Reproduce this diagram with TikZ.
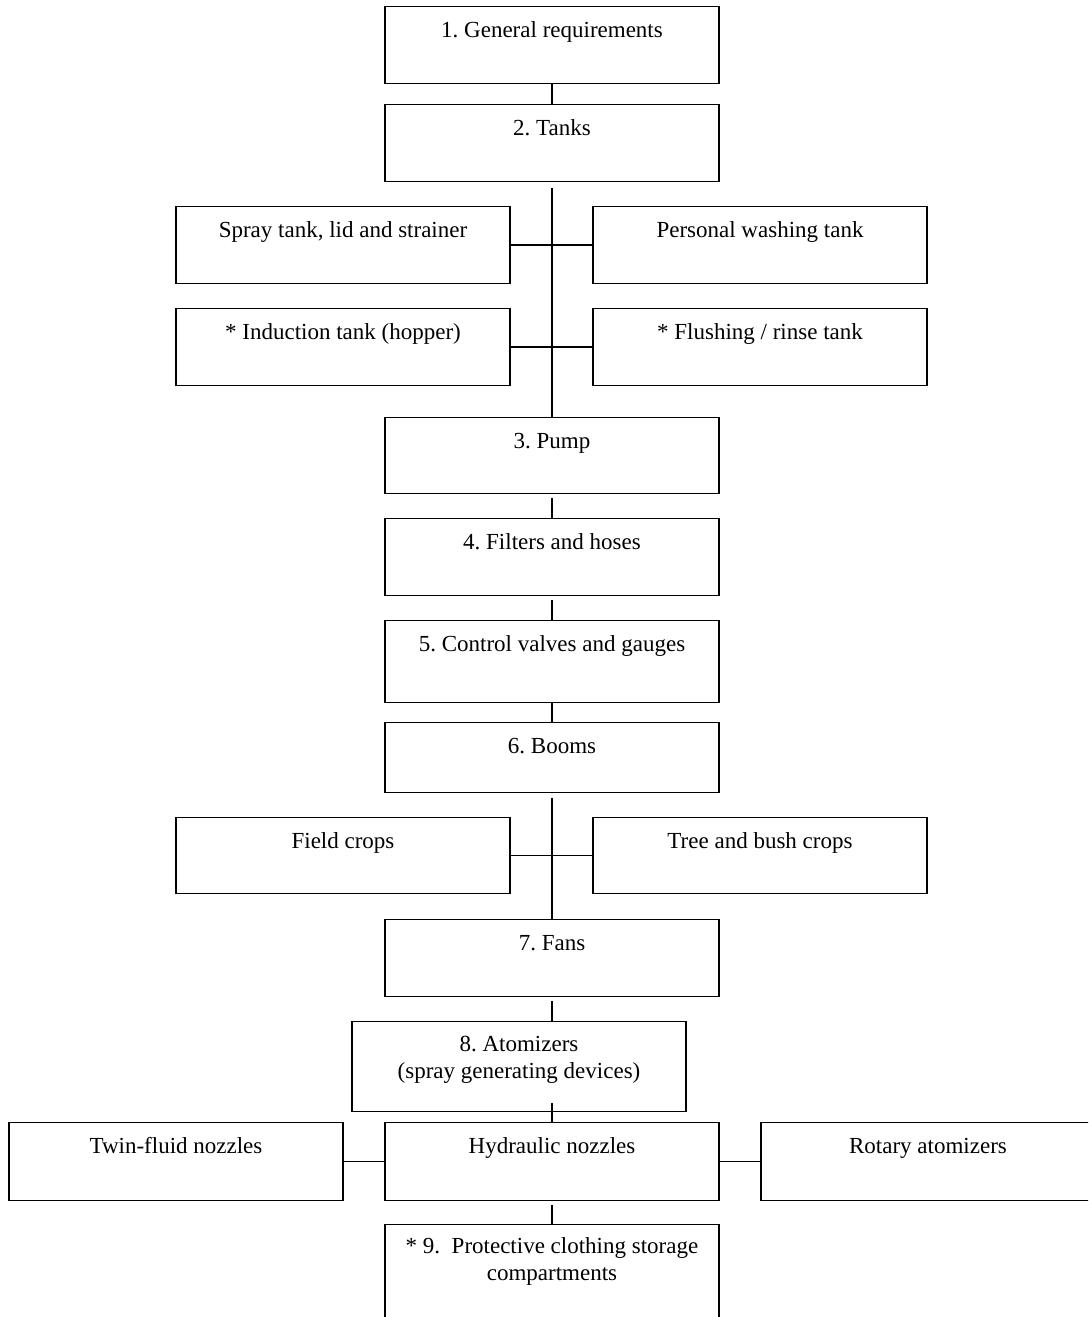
\documentclass[tikz,border=0pt]{standalone}
\usepackage{fontspec}
\setmainfont{Liberation Serif}
\usepackage{tikz}
\frenchspacing

\begin{document}
\begin{tikzpicture}[x=1pt,y=1pt,
  box/.style={draw=drawColor,line width=1.5pt,anchor=north,minimum width=334pt,inner sep=0pt,
    align=center,text height=31pt,text depth=46pt,font=\fontsize{23}{27}\selectfont},
  link/.style={draw=drawColor,line width=1.5pt},
  gap/.style={link,shorten <=4pt}]
\definecolor{drawColor}{RGB}{0,0,0}
\path[use as bounding box] (0,0) rectangle (1088,1317);
\begin{scope}
\path[clip] (0,0) rectangle (1088,1317);

% main chain
\node[box] (gen) at (552,1311) {1. General requirements};
\node[box] (tanks) at (552,1213) {2. Tanks};
\node[box,text depth=45pt] (pump) at (552,900) {3. Pump};
\node[box] (filters) at (552,799) {4. Filters and hoses};
\node[box,text depth=51pt] (control) at (552,697) {5. Control valves and gauges};
\node[box,text depth=39pt] (booms) at (552,595) {6. Booms};
\node[box] (fans) at (552,398) {7. Fans};
\node[box,text height=57pt,text depth=33pt] (atom) at (519,296) {8. Atomizers\\(spray generating devices)};
\node[box,text depth=47pt] (hydr) at (552,195) {Hydraulic nozzles};
\node[box,text height=56pt,text depth=60pt] (prot) at (552,93) {* 9.~ Protective clothing storage\\compartments};

% tanks
\node[box] (spray) at (343,1111) {Spray tank, lid and strainer};
\node[box] (wash) at (760,1111) {Personal washing tank};
\node[box] (induct) at (343,1009) {* Induction tank (hopper)};
\node[box] (flush) at (760,1009) {* Flushing / rinse tank};

% fans
\node[box,text depth=45pt] (field) at (343,500) {Field crops};
\node[box,text depth=45pt] (tree) at (760,500) {Tree and bush crops};

% atomizers
\node[box,text depth=47pt] (twin) at (176,195) {Twin-fluid nozzles};
\node[box,text depth=47pt] (rotary) at (928,195) {Rotary atomizers};

\path[link] (gen.south) -- (tanks.north);
\path[gap,shorten <=6pt] (tanks.south) -- (pump.north);
\path[link] (spray.east) -- (wash.west);
\path[link] (induct.east) -- (flush.west);
\path[gap] (pump.south) -- (filters.north);
\path[gap] (filters.south) -- (control.north);
\path[link] (control.south) -- (booms.north);
\path[gap,shorten <=5pt] (booms.south) -- (fans.north);
\path[link] (field.east) -- (tree.west);
\path[gap] (fans.south) -- (fans.south |- atom.north);
\path[link,shorten <=-9pt] (hydr.north |- atom.south) -- (hydr.north);
\path[link] (twin.east) -- (hydr.west);
\path[link] (hydr.east) -- (rotary.west);
\path[gap] (hydr.south) -- (prot.north);
\end{scope}
\end{tikzpicture}
\end{document}
